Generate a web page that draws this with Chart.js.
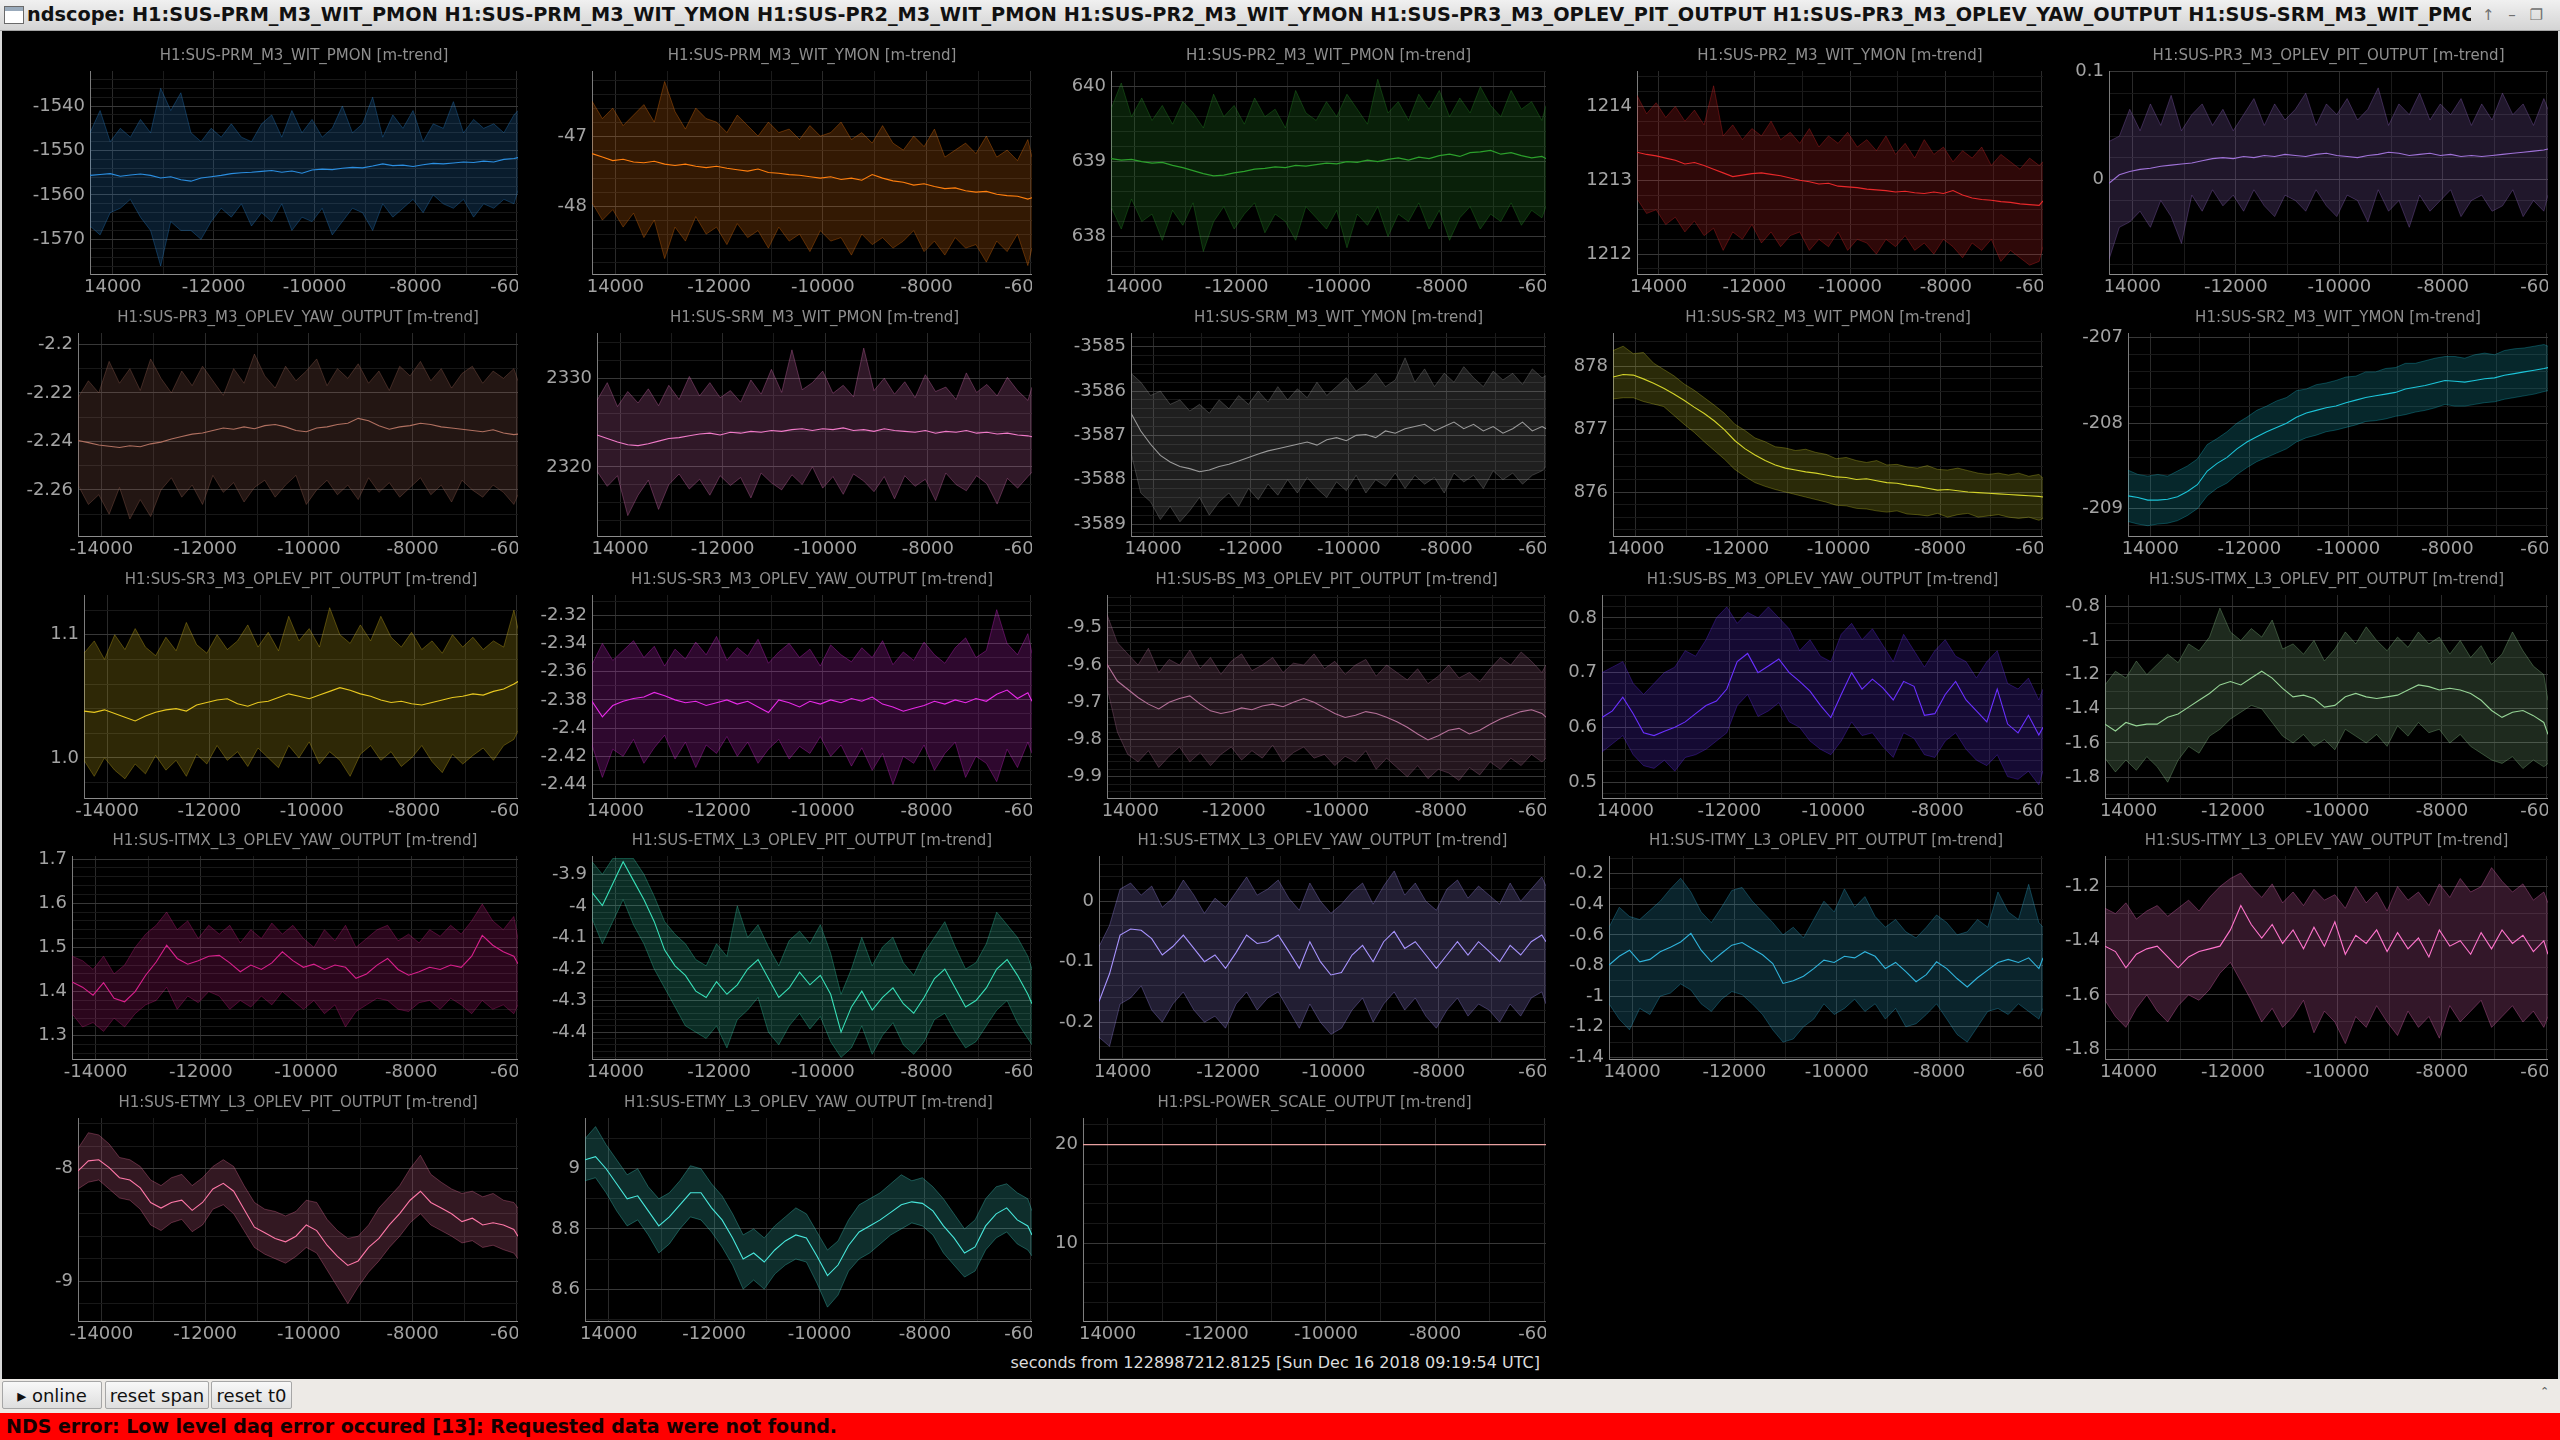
<!DOCTYPE html>
<html lang="en">
<head>
<meta charset="UTF-8">
<title>ndscope</title>
<script src="https://cdn.jsdelivr.net/npm/chart.js"></script>
<style>
    html, body { margin: 0; padding: 0; }
    body { width: 2560px; height: 1440px; position: relative; overflow: hidden; background: #d9d9d9; font-family: "DejaVu Sans", sans-serif; }
    #titlebar { position: absolute; left: 0; top: 0; width: 2560px; height: 30px; background: linear-gradient(#f0f0f0, #d4d4d4); border-bottom: 1px solid #a4a4a4; }
    #winicon { position: absolute; left: 4px; top: 6px; width: 18px; height: 16px; border: 1px solid #6a6a6a; background: linear-gradient(#9ab 0, #9ab 4px, #fff 4px); }
    #titletext { position: absolute; left: 27px; top: 0; width: 2444px; height: 30px; line-height: 30px; overflow: hidden; white-space: nowrap; font-weight: bold; font-size: 19.3px; color: #111; }
    #winbtns { position: absolute; left: 2482px; top: 0; height: 30px; line-height: 30px; font-size: 15px; color: #707070; word-spacing: 9px; }
    #scope { position: absolute; left: 2px; top: 31px; width: 2556px; height: 1348px; background: #000; }
    canvas { position: absolute; }
    #tlabel { position: absolute; left: 900px; width: 640px; top: 1353px; text-align: right; color: #dcdcdc; font-size: 16px; white-space: nowrap; }
    #bar { position: absolute; left: 0; top: 1379px; width: 2560px; height: 34px; background: #edeae6; }
    #bar .up { position: absolute; left: 2540px; top: 6px; font-size: 11px; color: #555; }
    .btn { position: absolute; top: 2px; height: 28px; line-height: 28px; border: 1px solid #a6a6a6; border-radius: 2px; background: linear-gradient(#f8f8f8, #dedede); font-size: 18px; color: #111; text-align: center; box-sizing: border-box; }
    #err { position: absolute; left: 0; top: 1413px; width: 2560px; height: 27px; background: #ff0000; color: #140000; font-weight: bold; font-size: 19px; line-height: 27px; padding-left: 6px; box-sizing: border-box; white-space: nowrap; }
</style>
</head>
<body>

<div id="titlebar">
    <div id="winicon"></div>
    <div id="titletext">ndscope: H1:SUS-PRM_M3_WIT_PMON H1:SUS-PRM_M3_WIT_YMON H1:SUS-PR2_M3_WIT_PMON H1:SUS-PR2_M3_WIT_YMON H1:SUS-PR3_M3_OPLEV_PIT_OUTPUT H1:SUS-PR3_M3_OPLEV_YAW_OUTPUT H1:SUS-SRM_M3_WIT_PMON H1:SUS-SRM_M3_WIT_YMON H1:SUS-SR2_M3_WIT_PMON</div>
    <div id="winbtns">&#8593; &#8211; &#10064; &#10005;</div>
</div>
<div id="scope"></div>
<div id="tlabel">seconds from 1228987212.8125 [Sun Dec 16 2018 09:19:54 UTC]</div>
<div id="bar">
    <div class="btn" style="left:2px;width:100px;">&#9656; online</div>
    <div class="btn" style="left:105px;width:104px;">reset span</div>
    <div class="btn" style="left:211px;width:81px;">reset t0</div>
    <div class="up">&#8963;</div>
</div>
<div id="err">NDS error: Low level daq error occured [13]: Requested data were not found.</div>

<script>
    // ---- data: minute trends (mean / max / min), seconds relative to t0 ----
    const TIMES = [-14450,-14250,-14050,-13850,-13650,-13450,-13250,-13050,-12850,-12650,-12450,-12250,-12050,-11850,-11650,-11450,-11250,-11050,-10850,-10650,-10450,-10250,-10050,-9850,-9650,-9450,-9250,-9050,-8850,-8650,-8450,-8250,-8050,-7850,-7650,-7450,-7250,-7050,-6850,-6650,-6450,-6250,-6050,-5970];
    const PSL_TIMES = [-14450, -5970];

    const PRM_PMON_MEAN = [-1555.6,-1555.4,-1555.2,-1555.8,-1555.5,-1555.3,-1555.6,-1556.2,-1555.9,-1556.6,-1556.9,-1556.2,-1555.9,-1555.6,-1555.2,-1555.0,-1554.9,-1554.7,-1554.5,-1554.9,-1554.6,-1555.1,-1554.4,-1554.2,-1554.3,-1554.0,-1553.8,-1553.9,-1553.5,-1553.0,-1553.4,-1553.3,-1553.6,-1553.2,-1552.9,-1553.0,-1552.8,-1552.6,-1552.7,-1552.4,-1552.6,-1552.0,-1551.8,-1551.6];
    const PRM_PMON_MAX = [-1546,-1541,-1548,-1545,-1547,-1543,-1546,-1536,-1541,-1537,-1546,-1548,-1545,-1547,-1544,-1547,-1548,-1544,-1542,-1547,-1541,-1546,-1543,-1547,-1545,-1540,-1546,-1544,-1538,-1547,-1542,-1545,-1541,-1548,-1544,-1545,-1539,-1546,-1543,-1545,-1544,-1546,-1542,-1541];
    const PRM_PMON_MIN = [-1567,-1569,-1564,-1563,-1561,-1565,-1568,-1576,-1566,-1568,-1568,-1570,-1566,-1563,-1565,-1562,-1567,-1564,-1566,-1562,-1568,-1565,-1566,-1563,-1569,-1566,-1563,-1564,-1568,-1562,-1565,-1563,-1561,-1564,-1560,-1562,-1563,-1561,-1565,-1562,-1563,-1561,-1562,-1559];

    const PRM_YMON_MEAN = [-47.25,-47.3,-47.35,-47.33,-47.37,-47.38,-47.36,-47.4,-47.42,-47.4,-47.43,-47.45,-47.43,-47.46,-47.48,-47.5,-47.47,-47.52,-47.53,-47.55,-47.56,-47.58,-47.6,-47.58,-47.62,-47.6,-47.63,-47.55,-47.6,-47.64,-47.66,-47.7,-47.68,-47.72,-47.75,-47.74,-47.78,-47.8,-47.79,-47.83,-47.85,-47.86,-47.9,-47.88];
    const PRM_YMON_MAX = [-46.5,-46.75,-46.6,-46.85,-46.7,-46.55,-46.8,-46.22,-46.65,-46.9,-46.6,-46.75,-46.8,-46.95,-46.7,-46.85,-47.0,-46.8,-46.95,-46.9,-47.05,-46.85,-47.0,-46.95,-46.8,-47.05,-46.95,-47.1,-46.85,-47.1,-47.2,-47.0,-47.15,-46.9,-47.3,-47.2,-47.1,-47.25,-47.0,-47.3,-47.2,-47.35,-47.05,-47.3];
    const PRM_YMON_MIN = [-47.95,-48.2,-48.05,-48.3,-48.1,-48.45,-48.2,-48.75,-48.3,-48.5,-48.15,-48.4,-48.3,-48.55,-48.25,-48.45,-48.35,-48.6,-48.3,-48.5,-48.4,-48.65,-48.35,-48.5,-48.45,-48.7,-48.4,-48.55,-48.45,-48.6,-48.5,-48.35,-48.65,-48.5,-48.7,-48.45,-48.6,-48.55,-48.8,-48.5,-48.65,-48.4,-48.85,-48.6];

    const PR2_PMON_MEAN = [639.04,639.02,639.03,639.0,638.98,638.99,638.95,638.92,638.88,638.84,638.81,638.82,638.85,638.87,638.9,638.91,638.93,638.92,638.95,638.94,638.96,638.98,638.97,639.0,638.99,639.02,639.0,639.03,639.05,639.02,639.06,639.04,639.08,639.1,639.07,639.12,639.13,639.15,639.1,639.12,639.08,639.05,639.07,639.04];
    const PR2_PMON_MAX = [639.7,640.05,639.6,639.85,639.55,639.75,639.5,639.8,639.65,639.45,639.9,639.6,639.75,639.5,639.85,639.6,639.7,639.45,639.95,639.65,639.55,639.8,639.6,639.9,639.7,639.5,640.1,639.65,639.8,639.55,639.9,639.7,639.95,639.6,639.85,639.65,640.0,639.75,639.6,639.95,639.7,639.8,639.55,639.75];
    const PR2_PMON_MIN = [638.4,638.1,638.5,638.2,638.3,637.95,638.35,638.15,638.45,637.8,638.2,638.4,638.1,638.3,638.45,638.05,638.3,638.2,637.95,638.4,638.25,638.1,638.35,637.85,638.3,638.15,638.4,638.0,638.3,638.2,638.45,638.1,638.35,637.95,638.25,638.4,638.1,638.3,638.2,638.45,638.15,638.35,638.25,638.4];

    const PR2_YMON_MEAN = [1213.38,1213.35,1213.33,1213.3,1213.27,1213.22,1213.24,1213.2,1213.15,1213.1,1213.05,1213.07,1213.09,1213.1,1213.08,1213.06,1213.03,1213.0,1212.98,1212.95,1212.96,1212.92,1212.91,1212.9,1212.88,1212.87,1212.86,1212.84,1212.85,1212.83,1212.82,1212.84,1212.82,1212.86,1212.8,1212.76,1212.74,1212.73,1212.71,1212.7,1212.68,1212.67,1212.66,1212.72];
    const PR2_YMON_MAX = [1214.15,1213.9,1214.05,1213.85,1214.0,1213.8,1213.95,1213.75,1214.28,1213.6,1213.75,1213.55,1213.7,1213.6,1213.8,1213.55,1213.65,1213.5,1213.7,1213.45,1213.6,1213.5,1213.65,1213.45,1213.55,1213.4,1213.6,1213.35,1213.5,1213.3,1213.55,1213.35,1213.45,1213.25,1213.4,1213.3,1213.45,1213.2,1213.35,1213.25,1213.15,1213.3,1213.2,1213.25];
    const PR2_YMON_MIN = [1212.75,1212.55,1212.6,1212.4,1212.5,1212.3,1212.45,1212.25,1212.35,1212.05,1212.3,1212.2,1212.4,1212.15,1212.3,1212.1,1212.25,1212.3,1212.05,1212.2,1212.1,1212.3,1212.05,1212.2,1212.15,1212.0,1212.2,1212.1,1212.25,1212.05,1212.15,1212.0,1212.2,1212.1,1211.95,1212.15,1212.05,1212.2,1211.9,1212.05,1211.95,1211.85,1211.9,1212.1];

    const PR3_PIT_MEAN = [-0.004,0.004,0.007,0.009,0.01,0.012,0.013,0.014,0.015,0.017,0.019,0.02,0.019,0.021,0.02,0.022,0.021,0.023,0.022,0.021,0.023,0.024,0.022,0.021,0.02,0.022,0.023,0.025,0.024,0.022,0.023,0.024,0.022,0.023,0.021,0.022,0.021,0.022,0.023,0.024,0.025,0.026,0.027,0.028];
    const PR3_PIT_MAX = [0.035,0.04,0.065,0.045,0.07,0.05,0.078,0.045,0.06,0.07,0.05,0.065,0.045,0.06,0.075,0.05,0.07,0.055,0.065,0.08,0.05,0.07,0.06,0.075,0.055,0.065,0.085,0.05,0.07,0.06,0.08,0.055,0.07,0.06,0.075,0.05,0.07,0.055,0.08,0.06,0.07,0.05,0.075,0.065];
    const PR3_PIT_MIN = [-0.075,-0.045,-0.04,-0.03,-0.045,-0.02,-0.035,-0.06,-0.015,-0.03,-0.01,-0.025,-0.015,-0.03,-0.01,-0.025,-0.035,-0.015,-0.02,-0.03,-0.01,-0.025,-0.035,-0.015,-0.02,-0.04,-0.01,-0.03,-0.02,-0.045,-0.015,-0.03,-0.02,-0.01,-0.035,-0.02,-0.015,-0.03,-0.025,-0.01,-0.035,-0.02,-0.03,-0.015];

    const PR3_YAW_MEAN = [-2.2396,-2.2405,-2.2415,-2.242,-2.2425,-2.2418,-2.2422,-2.241,-2.2403,-2.239,-2.238,-2.237,-2.2365,-2.2355,-2.2345,-2.235,-2.234,-2.2348,-2.2335,-2.233,-2.234,-2.2355,-2.236,-2.2345,-2.234,-2.233,-2.2325,-2.2305,-2.2315,-2.2335,-2.235,-2.234,-2.2335,-2.2325,-2.233,-2.234,-2.2345,-2.235,-2.2355,-2.236,-2.2352,-2.2365,-2.2372,-2.237];
    const PR3_YAW_MAX = [-2.222,-2.215,-2.22,-2.207,-2.216,-2.21,-2.219,-2.206,-2.214,-2.22,-2.211,-2.217,-2.209,-2.215,-2.221,-2.21,-2.216,-2.204,-2.213,-2.218,-2.209,-2.215,-2.211,-2.206,-2.217,-2.21,-2.214,-2.208,-2.216,-2.211,-2.219,-2.209,-2.213,-2.207,-2.215,-2.21,-2.218,-2.212,-2.209,-2.216,-2.211,-2.214,-2.21,-2.215];
    const PR3_YAW_MIN = [-2.258,-2.266,-2.262,-2.27,-2.259,-2.272,-2.264,-2.271,-2.26,-2.255,-2.263,-2.258,-2.266,-2.254,-2.261,-2.257,-2.265,-2.259,-2.256,-2.263,-2.258,-2.254,-2.266,-2.26,-2.256,-2.262,-2.258,-2.264,-2.255,-2.261,-2.257,-2.263,-2.259,-2.255,-2.262,-2.258,-2.265,-2.256,-2.26,-2.263,-2.258,-2.261,-2.266,-2.262];

    const SRM_PMON_MEAN = [2323.6,2323.2,2322.8,2322.5,2322.4,2322.6,2322.9,2323.2,2323.3,2323.5,2323.7,2323.8,2323.6,2323.9,2323.8,2324.0,2323.9,2324.1,2324.0,2324.2,2324.3,2324.1,2324.3,2324.2,2324.4,2324.1,2324.2,2324.0,2324.3,2324.1,2324.0,2323.9,2324.1,2323.8,2324.0,2323.9,2324.1,2323.8,2323.9,2323.7,2323.8,2323.6,2323.5,2323.4];
    const SRM_PMON_MAX = [2327.5,2329.5,2326.8,2328.5,2327.2,2328.8,2326.9,2329.2,2327.6,2330.2,2328.0,2329.5,2327.8,2328.6,2327.3,2329.8,2328.2,2331.0,2328.4,2333.2,2328.7,2329.5,2330.8,2328.3,2329.2,2327.9,2333.4,2328.6,2330.0,2328.2,2329.6,2327.8,2330.4,2328.5,2329.0,2327.6,2330.6,2328.4,2329.3,2328.0,2330.1,2328.6,2327.5,2329.0];
    const SRM_PMON_MIN = [2319.5,2317.8,2319.0,2314.5,2316.8,2318.5,2315.2,2318.0,2319.2,2317.5,2318.6,2316.8,2319.0,2317.9,2318.8,2316.5,2319.3,2318.2,2317.4,2319.1,2318.0,2320.0,2317.6,2318.9,2316.9,2319.2,2318.4,2317.2,2318.9,2316.4,2319.0,2317.8,2318.6,2316.2,2319.3,2318.0,2317.3,2319.0,2318.1,2315.8,2318.7,2317.6,2318.9,2319.4];

    const SRM_YMON_MEAN = [-3586.5,-3586.9,-3587.2,-3587.45,-3587.6,-3587.7,-3587.75,-3587.82,-3587.78,-3587.7,-3587.65,-3587.58,-3587.5,-3587.42,-3587.35,-3587.3,-3587.25,-3587.2,-3587.15,-3587.22,-3587.1,-3587.05,-3587.12,-3587.0,-3586.98,-3587.05,-3586.9,-3586.95,-3586.85,-3586.8,-3586.75,-3586.9,-3586.8,-3586.7,-3586.85,-3586.75,-3586.9,-3586.8,-3586.95,-3586.85,-3586.7,-3586.9,-3586.8,-3586.85];
    const SRM_YMON_MAX = [-3585.6,-3585.8,-3586.1,-3586.0,-3586.3,-3586.2,-3586.45,-3586.3,-3586.5,-3586.2,-3586.4,-3586.1,-3586.3,-3586.0,-3586.25,-3585.9,-3586.2,-3585.95,-3586.15,-3585.8,-3586.1,-3585.9,-3585.7,-3586.0,-3585.85,-3585.6,-3585.9,-3585.75,-3585.25,-3585.8,-3585.5,-3585.9,-3585.6,-3585.8,-3585.45,-3585.7,-3585.9,-3585.55,-3585.75,-3585.6,-3585.85,-3585.5,-3585.7,-3585.65];
    const SRM_YMON_MIN = [-3587.4,-3588.3,-3588.5,-3588.9,-3588.6,-3588.95,-3588.7,-3588.4,-3588.8,-3588.5,-3588.3,-3588.6,-3588.2,-3588.45,-3588.1,-3588.35,-3588.0,-3588.3,-3587.95,-3588.2,-3588.4,-3588.05,-3588.25,-3587.9,-3588.3,-3588.0,-3588.15,-3587.85,-3588.2,-3587.9,-3588.1,-3587.95,-3588.3,-3587.85,-3588.05,-3587.9,-3588.2,-3587.8,-3588.0,-3587.85,-3588.1,-3587.9,-3587.8,-3587.7];

    const SR2_PMON_MEAN = [877.83,877.87,877.86,877.8,877.73,877.65,877.56,877.46,877.35,877.25,877.13,876.99,876.82,876.69,876.59,876.5,876.43,876.38,876.35,876.32,876.3,876.27,876.24,876.23,876.2,876.21,876.18,876.15,876.14,876.11,876.09,876.06,876.03,876.04,876.02,876.0,875.99,875.98,875.97,875.96,875.95,875.94,875.93,875.92];
    const SR2_PMON_MAX = [878.25,878.32,878.2,878.22,878.05,877.95,877.85,877.72,877.62,877.5,877.38,877.25,877.08,876.98,876.86,876.8,876.72,876.7,876.66,876.68,876.63,876.6,876.53,876.55,876.5,876.47,876.5,876.43,876.44,876.4,876.38,876.42,876.36,876.35,876.38,876.34,876.3,876.28,876.3,876.27,876.3,876.25,876.28,876.22];
    const SR2_PMON_MIN = [877.48,877.5,877.5,877.44,877.4,877.36,877.22,877.08,876.95,876.8,876.66,876.52,876.36,876.25,876.15,876.09,876.04,876.0,875.96,875.92,875.88,875.84,875.79,875.78,875.74,875.73,875.7,875.68,875.7,875.65,875.64,875.62,875.66,875.6,875.64,875.66,875.6,875.62,875.64,875.6,875.58,875.6,875.55,875.58];

    const SR2_YMON_MEAN = [-208.85,-208.87,-208.9,-208.9,-208.89,-208.86,-208.8,-208.72,-208.56,-208.47,-208.4,-208.3,-208.22,-208.16,-208.1,-208.05,-208.0,-207.93,-207.88,-207.85,-207.82,-207.8,-207.76,-207.73,-207.7,-207.68,-207.66,-207.64,-207.6,-207.58,-207.56,-207.53,-207.5,-207.51,-207.52,-207.5,-207.48,-207.47,-207.44,-207.42,-207.4,-207.38,-207.36,-207.35];
    const SR2_YMON_MAX = [-208.55,-208.6,-208.62,-208.6,-208.62,-208.56,-208.5,-208.42,-208.25,-208.18,-208.1,-208.0,-207.93,-207.85,-207.8,-207.74,-207.7,-207.62,-207.6,-207.55,-207.53,-207.5,-207.46,-207.45,-207.4,-207.4,-207.36,-207.35,-207.3,-207.3,-207.27,-207.24,-207.22,-207.22,-207.24,-207.2,-207.18,-207.2,-207.15,-207.13,-207.12,-207.1,-207.08,-207.1];
    const SR2_YMON_MIN = [-209.15,-209.18,-209.2,-209.18,-209.17,-209.14,-209.08,-209.0,-208.85,-208.76,-208.7,-208.6,-208.52,-208.45,-208.4,-208.35,-208.3,-208.22,-208.17,-208.14,-208.1,-208.08,-208.05,-208.02,-207.98,-207.97,-207.95,-207.92,-207.9,-207.87,-207.85,-207.82,-207.78,-207.8,-207.8,-207.78,-207.76,-207.75,-207.72,-207.7,-207.68,-207.66,-207.63,-207.62];

    const SR3_PIT_MEAN = [1.038,1.037,1.039,1.036,1.033,1.030,1.034,1.037,1.039,1.04,1.038,1.043,1.045,1.047,1.048,1.044,1.042,1.045,1.046,1.049,1.052,1.05,1.048,1.051,1.054,1.057,1.055,1.052,1.05,1.047,1.045,1.046,1.044,1.043,1.045,1.047,1.049,1.05,1.052,1.051,1.054,1.056,1.06,1.062];
    const SR3_PIT_MAX = [1.085,1.095,1.08,1.1,1.088,1.105,1.09,1.083,1.098,1.087,1.11,1.092,1.085,1.1,1.088,1.095,1.108,1.09,1.102,1.087,1.115,1.095,1.105,1.09,1.122,1.1,1.093,1.108,1.095,1.115,1.098,1.09,1.102,1.088,1.095,1.085,1.1,1.09,1.098,1.088,1.095,1.09,1.12,1.105];
    const SR3_PIT_MIN = [0.998,0.985,1.0,0.99,0.983,0.995,0.987,1.002,0.99,0.998,0.985,1.003,0.995,1.01,0.998,1.005,0.993,1.008,1.0,0.992,1.01,1.0,1.013,0.995,1.005,0.998,0.985,1.003,1.01,0.998,1.005,0.993,1.0,1.01,0.997,0.988,1.003,0.995,1.002,1.008,0.998,1.01,1.015,1.022];

    const SR3_YAW_MEAN = [-2.381,-2.392,-2.384,-2.381,-2.379,-2.378,-2.3747,-2.377,-2.38,-2.382,-2.381,-2.384,-2.382,-2.38,-2.383,-2.381,-2.385,-2.389,-2.38,-2.382,-2.385,-2.381,-2.383,-2.38,-2.382,-2.379,-2.381,-2.378,-2.383,-2.385,-2.388,-2.386,-2.384,-2.381,-2.383,-2.38,-2.382,-2.379,-2.381,-2.376,-2.373,-2.379,-2.375,-2.381];
    const SR3_YAW_MAX = [-2.355,-2.34,-2.352,-2.345,-2.338,-2.35,-2.342,-2.356,-2.344,-2.351,-2.339,-2.348,-2.335,-2.352,-2.343,-2.349,-2.337,-2.354,-2.346,-2.34,-2.35,-2.344,-2.356,-2.341,-2.348,-2.353,-2.343,-2.35,-2.338,-2.355,-2.346,-2.352,-2.339,-2.348,-2.354,-2.343,-2.336,-2.35,-2.345,-2.316,-2.34,-2.348,-2.333,-2.347];
    const SR3_YAW_MIN = [-2.412,-2.435,-2.415,-2.42,-2.408,-2.425,-2.414,-2.405,-2.422,-2.41,-2.428,-2.412,-2.418,-2.406,-2.42,-2.41,-2.425,-2.415,-2.408,-2.422,-2.413,-2.418,-2.406,-2.42,-2.412,-2.427,-2.414,-2.43,-2.418,-2.44,-2.42,-2.425,-2.412,-2.43,-2.418,-2.41,-2.435,-2.42,-2.425,-2.438,-2.415,-2.428,-2.41,-2.418];

    const BS_PIT_MEAN = [-9.598,-9.643,-9.665,-9.687,-9.705,-9.718,-9.7,-9.69,-9.683,-9.705,-9.723,-9.73,-9.725,-9.715,-9.72,-9.71,-9.705,-9.712,-9.7,-9.69,-9.7,-9.715,-9.73,-9.741,-9.735,-9.725,-9.73,-9.74,-9.752,-9.767,-9.785,-9.801,-9.79,-9.775,-9.77,-9.785,-9.775,-9.759,-9.745,-9.735,-9.725,-9.72,-9.73,-9.74];
    const BS_PIT_MAX = [-9.464,-9.54,-9.57,-9.6,-9.555,-9.62,-9.585,-9.6,-9.56,-9.61,-9.58,-9.625,-9.59,-9.57,-9.615,-9.6,-9.58,-9.62,-9.595,-9.6,-9.57,-9.61,-9.59,-9.625,-9.6,-9.585,-9.63,-9.6,-9.62,-9.64,-9.61,-9.65,-9.63,-9.6,-9.635,-9.62,-9.645,-9.61,-9.58,-9.6,-9.565,-9.59,-9.62,-9.6];
    const BS_PIT_MIN = [-9.66,-9.78,-9.84,-9.86,-9.83,-9.875,-9.845,-9.82,-9.86,-9.835,-9.87,-9.84,-9.82,-9.855,-9.83,-9.85,-9.815,-9.86,-9.835,-9.82,-9.85,-9.84,-9.87,-9.845,-9.86,-9.83,-9.88,-9.85,-9.875,-9.9,-9.87,-9.905,-9.88,-9.89,-9.91,-9.875,-9.895,-9.86,-9.88,-9.85,-9.87,-9.84,-9.86,-9.85];

    const BS_YAW_MEAN = [0.618,0.63,0.655,0.625,0.59,0.585,0.593,0.60,0.61,0.625,0.64,0.648,0.67,0.72,0.735,0.70,0.712,0.725,0.70,0.684,0.666,0.64,0.618,0.66,0.70,0.67,0.688,0.672,0.65,0.684,0.675,0.622,0.625,0.66,0.684,0.65,0.63,0.61,0.67,0.606,0.59,0.622,0.586,0.6];
    const BS_YAW_MAX = [0.70,0.71,0.72,0.68,0.66,0.68,0.70,0.71,0.74,0.73,0.76,0.80,0.82,0.79,0.81,0.80,0.82,0.80,0.78,0.74,0.76,0.73,0.72,0.77,0.79,0.76,0.78,0.75,0.72,0.77,0.74,0.71,0.74,0.76,0.73,0.72,0.69,0.72,0.74,0.68,0.67,0.69,0.65,0.67];
    const BS_YAW_MIN = [0.555,0.57,0.585,0.55,0.53,0.525,0.54,0.52,0.545,0.55,0.56,0.575,0.59,0.64,0.66,0.62,0.63,0.645,0.61,0.60,0.575,0.56,0.55,0.575,0.61,0.585,0.59,0.565,0.545,0.59,0.58,0.55,0.545,0.575,0.59,0.56,0.54,0.53,0.55,0.51,0.505,0.52,0.495,0.52];

    const ITMX_PIT_MEAN = [-1.49,-1.53,-1.48,-1.5,-1.49,-1.49,-1.45,-1.43,-1.39,-1.35,-1.31,-1.26,-1.24,-1.26,-1.22,-1.18,-1.22,-1.28,-1.33,-1.32,-1.34,-1.39,-1.38,-1.33,-1.31,-1.33,-1.34,-1.33,-1.32,-1.29,-1.26,-1.27,-1.29,-1.28,-1.29,-1.31,-1.35,-1.41,-1.45,-1.42,-1.41,-1.44,-1.48,-1.55];
    const ITMX_PIT_MAX = [-1.26,-1.18,-1.22,-1.12,-1.2,-1.14,-1.08,-1.13,-1.02,-1.06,-0.98,-0.81,-0.95,-1.0,-0.93,-0.98,-0.88,-1.05,-1.02,-1.08,-1.0,-1.12,-1.05,-0.95,-1.02,-0.92,-1.0,-1.06,-0.98,-1.04,-0.95,-1.02,-0.98,-1.08,-1.0,-1.1,-1.03,-1.14,-1.08,-0.95,-1.06,-1.15,-1.2,-1.35];
    const ITMX_PIT_MIN = [-1.69,-1.77,-1.7,-1.76,-1.68,-1.74,-1.83,-1.7,-1.62,-1.66,-1.56,-1.52,-1.46,-1.42,-1.38,-1.4,-1.48,-1.56,-1.6,-1.55,-1.62,-1.58,-1.64,-1.52,-1.56,-1.6,-1.55,-1.62,-1.5,-1.56,-1.48,-1.54,-1.52,-1.6,-1.55,-1.62,-1.66,-1.7,-1.72,-1.68,-1.75,-1.7,-1.74,-1.72];

    const ITMX_YAW_MEAN = [1.422,1.41,1.392,1.42,1.385,1.377,1.40,1.437,1.467,1.505,1.475,1.462,1.47,1.48,1.482,1.465,1.445,1.46,1.45,1.465,1.49,1.47,1.455,1.462,1.45,1.46,1.455,1.43,1.44,1.46,1.475,1.45,1.437,1.445,1.455,1.45,1.46,1.455,1.48,1.527,1.505,1.49,1.48,1.463];
    const ITMX_YAW_MAX = [1.48,1.47,1.45,1.48,1.44,1.46,1.50,1.53,1.55,1.58,1.54,1.56,1.52,1.55,1.53,1.55,1.51,1.54,1.52,1.555,1.53,1.55,1.52,1.5,1.54,1.515,1.55,1.5,1.52,1.54,1.55,1.515,1.53,1.51,1.54,1.525,1.55,1.53,1.56,1.598,1.56,1.54,1.57,1.52];
    const ITMX_YAW_MIN = [1.35,1.32,1.33,1.31,1.34,1.32,1.35,1.37,1.38,1.41,1.36,1.39,1.375,1.4,1.39,1.36,1.38,1.365,1.39,1.37,1.4,1.38,1.36,1.38,1.35,1.37,1.32,1.355,1.37,1.385,1.38,1.36,1.355,1.375,1.38,1.36,1.385,1.37,1.35,1.38,1.36,1.37,1.35,1.37];

    const ETMX_PIT_MEAN = [-3.957,-3.999,-3.93,-3.86,-3.92,-3.98,-4.05,-4.14,-4.19,-4.22,-4.27,-4.29,-4.24,-4.28,-4.25,-4.2,-4.17,-4.23,-4.29,-4.26,-4.21,-4.25,-4.22,-4.28,-4.4,-4.32,-4.27,-4.33,-4.29,-4.26,-4.31,-4.34,-4.29,-4.23,-4.2,-4.26,-4.32,-4.3,-4.26,-4.2,-4.17,-4.22,-4.28,-4.31];
    const ETMX_PIT_MAX = [-3.86,-3.9,-3.85,-3.85,-3.85,-3.9,-3.97,-4.05,-4.09,-4.12,-4.17,-4.19,-4.12,-4.16,-4.0,-4.1,-4.06,-4.13,-4.19,-4.11,-4.08,-4.12,-4.06,-4.15,-4.28,-4.2,-4.1,-4.19,-4.13,-4.1,-4.18,-4.22,-4.15,-4.1,-4.05,-4.13,-4.2,-4.18,-4.12,-4.02,-4.06,-4.1,-4.16,-4.2];
    const ETMX_PIT_MIN = [-4.04,-4.12,-4.05,-3.98,-4.06,-4.12,-4.2,-4.26,-4.32,-4.38,-4.4,-4.42,-4.38,-4.45,-4.36,-4.33,-4.29,-4.4,-4.44,-4.38,-4.34,-4.39,-4.35,-4.43,-4.48,-4.45,-4.38,-4.47,-4.41,-4.37,-4.44,-4.47,-4.43,-4.36,-4.34,-4.4,-4.45,-4.43,-4.38,-4.33,-4.3,-4.37,-4.42,-4.44];

    const ETMX_YAW_MEAN = [-0.166,-0.12,-0.056,-0.046,-0.048,-0.062,-0.089,-0.075,-0.056,-0.078,-0.1,-0.089,-0.111,-0.085,-0.056,-0.07,-0.067,-0.056,-0.083,-0.111,-0.067,-0.1,-0.122,-0.118,-0.089,-0.073,-0.1,-0.067,-0.05,-0.078,-0.067,-0.089,-0.111,-0.089,-0.067,-0.089,-0.067,-0.083,-0.1,-0.073,-0.089,-0.067,-0.056,-0.067];
    const ETMX_YAW_MAX = [-0.075,-0.04,0.02,0.03,0.01,0.025,-0.01,0.005,0.035,0.01,-0.02,0.005,-0.01,0.015,0.04,0.01,0.02,0.035,0.005,-0.015,0.03,0.0,-0.02,-0.005,0.015,0.03,-0.005,0.025,0.05,0.01,0.03,0.0,-0.015,0.02,0.035,0.005,0.025,0.01,-0.005,0.03,0.0,0.02,0.04,0.025];
    const ETMX_YAW_MIN = [-0.225,-0.24,-0.17,-0.16,-0.14,-0.18,-0.2,-0.17,-0.15,-0.18,-0.2,-0.19,-0.21,-0.17,-0.15,-0.18,-0.16,-0.15,-0.18,-0.21,-0.17,-0.2,-0.22,-0.21,-0.18,-0.16,-0.2,-0.17,-0.15,-0.18,-0.16,-0.19,-0.21,-0.18,-0.16,-0.19,-0.17,-0.18,-0.2,-0.17,-0.19,-0.16,-0.15,-0.17];

    const ITMY_PIT_MEAN = [-0.797,-0.74,-0.7,-0.776,-0.76,-0.71,-0.68,-0.646,-0.59,-0.7,-0.776,-0.72,-0.667,-0.65,-0.69,-0.73,-0.787,-0.917,-0.9,-0.87,-0.82,-0.765,-0.78,-0.74,-0.75,-0.71,-0.74,-0.82,-0.78,-0.84,-0.906,-0.86,-0.776,-0.82,-0.885,-0.94,-0.88,-0.83,-0.78,-0.76,-0.78,-0.75,-0.82,-0.75];
    const ITMY_PIT_MAX = [-0.55,-0.42,-0.48,-0.5,-0.44,-0.38,-0.3,-0.23,-0.32,-0.45,-0.52,-0.42,-0.31,-0.29,-0.38,-0.45,-0.52,-0.6,-0.55,-0.62,-0.5,-0.38,-0.45,-0.3,-0.42,-0.35,-0.48,-0.55,-0.5,-0.58,-0.62,-0.55,-0.47,-0.52,-0.6,-0.58,-0.5,-0.55,-0.32,-0.45,-0.5,-0.27,-0.52,-0.55];
    const ITMY_PIT_MIN = [-1.05,-1.15,-1.22,-1.08,-1.12,-1.0,-0.98,-0.92,-0.96,-1.05,-1.1,-1.02,-0.97,-0.99,-1.05,-1.12,-1.22,-1.3,-1.28,-1.2,-1.15,-1.05,-1.12,-1.08,-1.02,-1.1,-1.05,-1.15,-1.08,-1.2,-1.18,-1.12,-1.05,-1.15,-1.25,-1.3,-1.2,-1.1,-1.08,-1.12,-1.05,-1.1,-1.15,-1.08];

    const ITMY_YAW_MEAN = [-1.42,-1.44,-1.5,-1.45,-1.43,-1.42,-1.46,-1.5,-1.46,-1.44,-1.43,-1.42,-1.36,-1.27,-1.34,-1.39,-1.34,-1.41,-1.36,-1.43,-1.35,-1.42,-1.33,-1.45,-1.38,-1.41,-1.36,-1.44,-1.37,-1.43,-1.39,-1.46,-1.36,-1.42,-1.4,-1.45,-1.37,-1.43,-1.36,-1.41,-1.38,-1.44,-1.4,-1.45];
    const ITMY_YAW_MAX = [-1.28,-1.3,-1.26,-1.32,-1.29,-1.27,-1.31,-1.28,-1.25,-1.29,-1.24,-1.2,-1.17,-1.15,-1.2,-1.24,-1.19,-1.26,-1.22,-1.27,-1.21,-1.25,-1.23,-1.28,-1.2,-1.26,-1.22,-1.29,-1.2,-1.25,-1.22,-1.27,-1.19,-1.24,-1.17,-1.22,-1.2,-1.13,-1.18,-1.22,-1.19,-1.25,-1.22,-1.26];
    const ITMY_YAW_MIN = [-1.62,-1.68,-1.72,-1.65,-1.6,-1.66,-1.7,-1.64,-1.6,-1.62,-1.58,-1.52,-1.48,-1.55,-1.62,-1.7,-1.65,-1.72,-1.68,-1.62,-1.74,-1.66,-1.7,-1.78,-1.68,-1.72,-1.64,-1.7,-1.75,-1.66,-1.72,-1.68,-1.76,-1.64,-1.7,-1.66,-1.62,-1.72,-1.68,-1.64,-1.7,-1.66,-1.72,-1.68];

    const ETMY_PIT_MEAN = [-8.02,-7.93,-7.92,-7.99,-8.08,-8.1,-8.17,-8.3,-8.35,-8.3,-8.28,-8.37,-8.3,-8.18,-8.13,-8.2,-8.36,-8.52,-8.57,-8.62,-8.65,-8.6,-8.5,-8.55,-8.68,-8.78,-8.86,-8.82,-8.7,-8.62,-8.5,-8.4,-8.28,-8.2,-8.3,-8.35,-8.4,-8.47,-8.44,-8.5,-8.48,-8.5,-8.54,-8.6];
    const ETMY_PIT_MAX = [-7.82,-7.68,-7.7,-7.78,-7.9,-7.92,-7.98,-8.1,-8.15,-8.08,-8.05,-8.15,-8.08,-7.98,-7.92,-7.98,-8.15,-8.3,-8.36,-8.38,-8.42,-8.38,-8.28,-8.3,-8.45,-8.55,-8.62,-8.6,-8.5,-8.35,-8.25,-8.15,-8.0,-7.88,-8.05,-8.12,-8.18,-8.22,-8.2,-8.25,-8.22,-8.28,-8.3,-8.35];
    const ETMY_PIT_MIN = [-8.18,-8.12,-8.1,-8.18,-8.26,-8.28,-8.36,-8.5,-8.55,-8.48,-8.45,-8.56,-8.5,-8.36,-8.32,-8.4,-8.55,-8.7,-8.76,-8.8,-8.84,-8.78,-8.7,-8.75,-8.9,-9.05,-9.2,-9.05,-8.92,-8.82,-8.7,-8.6,-8.48,-8.4,-8.5,-8.55,-8.6,-8.66,-8.64,-8.7,-8.68,-8.72,-8.75,-8.8];

    const ETMY_YAW_MEAN = [9.03,9.04,9.0,8.95,8.9,8.91,8.86,8.81,8.84,8.88,8.92,8.92,8.87,8.83,8.77,8.7,8.72,8.69,8.73,8.76,8.78,8.77,8.71,8.645,8.68,8.745,8.79,8.81,8.83,8.855,8.88,8.89,8.885,8.86,8.81,8.77,8.72,8.74,8.81,8.85,8.87,8.83,8.81,8.78];
    const ETMY_YAW_MAX = [9.1,9.14,9.08,9.03,8.98,9.0,8.94,8.9,8.92,8.96,9.01,9.0,8.95,8.91,8.85,8.78,8.8,8.77,8.81,8.84,8.87,8.85,8.79,8.73,8.76,8.83,8.88,8.9,8.92,8.95,8.98,8.96,8.97,8.94,8.9,8.85,8.8,8.83,8.9,8.94,8.95,8.92,8.9,8.86];
    const ETMY_YAW_MIN = [8.96,8.97,8.92,8.86,8.81,8.83,8.78,8.72,8.75,8.8,8.84,8.83,8.79,8.74,8.68,8.6,8.63,8.6,8.65,8.68,8.7,8.69,8.62,8.54,8.58,8.66,8.7,8.72,8.75,8.78,8.8,8.82,8.81,8.78,8.72,8.68,8.64,8.66,8.73,8.77,8.79,8.75,8.73,8.71];

    const PSL_POWER_MEAN = [20, 20];

    // x axis: seconds from t0
    const X_RANGE = [-14450, -5970];
    const X_MAJOR = 2000, X_MINOR = 1000;

    // one entry per plot: channel, series, y-axis range and tick spacing
    const PANELS = [
        {name: 'H1:SUS-PRM_M3_WIT_PMON', t: TIMES, mean: PRM_PMON_MEAN, max: PRM_PMON_MAX, min: PRM_PMON_MIN, y: [-1577.8, -1532.1], major: 10, minor: 2},
        {name: 'H1:SUS-PRM_M3_WIT_YMON', t: TIMES, mean: PRM_YMON_MEAN, max: PRM_YMON_MAX, min: PRM_YMON_MIN, y: [-48.97, -46.07], major: 1, minor: 0.2},
        {name: 'H1:SUS-PR2_M3_WIT_PMON', t: TIMES, mean: PR2_PMON_MEAN, max: PR2_PMON_MAX, min: PR2_PMON_MIN, y: [637.5, 640.21], major: 1, minor: 0.2},
        {name: 'H1:SUS-PR2_M3_WIT_YMON', t: TIMES, mean: PR2_YMON_MEAN, max: PR2_YMON_MAX, min: PR2_YMON_MIN, y: [1211.73, 1214.48], major: 1, minor: 0.2},
        {name: 'H1:SUS-PR3_M3_OPLEV_PIT_OUTPUT', t: TIMES, mean: PR3_PIT_MEAN, max: PR3_PIT_MAX, min: PR3_PIT_MIN, y: [-0.0885, 0.1007], major: 0.1, minor: 0.02},
        {name: 'H1:SUS-PR3_M3_OPLEV_YAW_OUTPUT', t: TIMES, mean: PR3_YAW_MEAN, max: PR3_YAW_MAX, min: PR3_YAW_MIN, y: [-2.279, -2.1953], major: 0.02, minor: 0.01},
        {name: 'H1:SUS-SRM_M3_WIT_PMON', t: TIMES, mean: SRM_PMON_MEAN, max: SRM_PMON_MAX, min: SRM_PMON_MIN, y: [2312.2, 2335.1], major: 10, minor: 2},
        {name: 'H1:SUS-SRM_M3_WIT_YMON', t: TIMES, mean: SRM_YMON_MEAN, max: SRM_YMON_MAX, min: SRM_YMON_MIN, y: [-3589.27, -3584.69], major: 1, minor: 0.2},
        {name: 'H1:SUS-SR2_M3_WIT_PMON', t: TIMES, mean: SR2_PMON_MEAN, max: SR2_PMON_MAX, min: SR2_PMON_MIN, y: [875.3, 878.53], major: 1, minor: 0.2},
        {name: 'H1:SUS-SR2_M3_WIT_YMON', t: TIMES, mean: SR2_YMON_MEAN, max: SR2_YMON_MAX, min: SR2_YMON_MIN, y: [-209.32, -206.945], major: 1, minor: 0.2},
        {name: 'H1:SUS-SR3_M3_OPLEV_PIT_OUTPUT', t: TIMES, mean: SR3_PIT_MEAN, max: SR3_PIT_MAX, min: SR3_PIT_MIN, y: [0.9674, 1.1323], major: 0.1, minor: 0.02, fixed: 1},
        {name: 'H1:SUS-SR3_M3_OPLEV_YAW_OUTPUT', t: TIMES, mean: SR3_YAW_MEAN, max: SR3_YAW_MAX, min: SR3_YAW_MIN, y: [-2.4496, -2.3056], major: 0.02, minor: 0.01},
        {name: 'H1:SUS-BS_M3_OPLEV_PIT_OUTPUT', t: TIMES, mean: BS_PIT_MEAN, max: BS_PIT_MAX, min: BS_PIT_MIN, y: [-9.957, -9.412], major: 0.1, minor: 0.02},
        {name: 'H1:SUS-BS_M3_OPLEV_YAW_OUTPUT', t: TIMES, mean: BS_YAW_MEAN, max: BS_YAW_MAX, min: BS_YAW_MIN, y: [0.4709, 0.8418], major: 0.1, minor: 0.02},
        {name: 'H1:SUS-ITMX_L3_OPLEV_PIT_OUTPUT', t: TIMES, mean: ITMX_PIT_MEAN, max: ITMX_PIT_MAX, min: ITMX_PIT_MIN, y: [-1.9224, -0.7335], major: 0.2, minor: 0.1},
        {name: 'H1:SUS-ITMX_L3_OPLEV_YAW_OUTPUT', t: TIMES, mean: ITMX_YAW_MEAN, max: ITMX_YAW_MAX, min: ITMX_YAW_MIN, y: [1.2475, 1.7068], major: 0.1, minor: 0.02},
        {name: 'H1:SUS-ETMX_L3_OPLEV_PIT_OUTPUT', t: TIMES, mean: ETMX_PIT_MEAN, max: ETMX_PIT_MAX, min: ETMX_PIT_MIN, y: [-4.485, -3.842], major: 0.1, minor: 0.02},
        {name: 'H1:SUS-ETMX_L3_OPLEV_YAW_OUTPUT', t: TIMES, mean: ETMX_YAW_MEAN, max: ETMX_YAW_MAX, min: ETMX_YAW_MIN, y: [-0.2609, 0.0747], major: 0.1, minor: 0.02},
        {name: 'H1:SUS-ITMY_L3_OPLEV_PIT_OUTPUT', t: TIMES, mean: ITMY_PIT_MEAN, max: ITMY_PIT_MAX, min: ITMY_PIT_MIN, y: [-1.4104, -0.085], major: 0.2, minor: 0.1},
        {name: 'H1:SUS-ITMY_L3_OPLEV_YAW_OUTPUT', t: TIMES, mean: ITMY_YAW_MEAN, max: ITMY_YAW_MAX, min: ITMY_YAW_MIN, y: [-1.8368, -1.087], major: 0.2, minor: 0.1},
        {name: 'H1:SUS-ETMY_L3_OPLEV_PIT_OUTPUT', t: TIMES, mean: ETMY_PIT_MEAN, max: ETMY_PIT_MAX, min: ETMY_PIT_MIN, y: [-9.354, -7.549], major: 1, minor: 0.2},
        {name: 'H1:SUS-ETMY_L3_OPLEV_YAW_OUTPUT', t: TIMES, mean: ETMY_YAW_MEAN, max: ETMY_YAW_MAX, min: ETMY_YAW_MIN, y: [8.494, 9.1686], major: 0.2, minor: 0.1},
        {name: 'H1:PSL-POWER_SCALE_OUTPUT', t: PSL_TIMES, mean: PSL_POWER_MEAN, y: [2.145, 22.69], major: 10, minor: 2}
    ];

    // ---- styling / layout (window pixels) ----
    const LINE_COLORS = ['#2b8ee0','#ff7f0e','#2ca02c','#e8282a','#9f72d8','#b07060','#f07ac8','#9a9a9a','#d4d42a','#1cc4d8',
                         '#e8c820','#e82ae8','#b47098','#6a30ff','#96d496','#d8208c','#38e0b8','#a894ff','#30b4dc','#ff74cc',
                         '#ff78a8','#48e8dc','#e8a0a0'];
    const PLOT_LEFT = [[90, 592, 1111, 1637, 2109], [78, 597, 1131, 1613, 2128], [84, 592, 1107, 1602, 2105], [72, 592, 1099, 1609, 2105], [78, 585, 1083]];
    const PLOT_RIGHT = [518, 1032, 1546, 2043, 2548];
    const ROW_TOP = 71, ROW_STEP = 261.75, PLOT_H = 203;
    const TITLE_H = 24, XAXIS_H = 30, YAXIS_W = 90;

    Chart.defaults.font.family = 'DejaVu Sans';

    function rgba(hex, a) {
        const n = parseInt(hex.slice(1), 16);
        return 'rgba(' + (n >> 16) + ',' + ((n >> 8) & 255) + ',' + (n & 255) + ',' + a + ')';
    }

    function tickList(min, max, step) {
        const out = [];
        for (let k = Math.ceil(min / step - 1e-9); k * step <= max + 1e-9; k++) {
            out.push({value: +(k * step).toFixed(10)});
        }
        return out;
    }

    function onGrid(v, step) {
        const r = v / step;
        return Math.abs(r - Math.round(r)) < 1e-6;
    }

    function points(times, values) {
        return values.map((v, i) => ({x: times[i], y: v}));
    }

    PANELS.forEach((p, i) => {
        const row = Math.floor(i / 5), col = i % 5;
        const left = PLOT_LEFT[row][col] - YAXIS_W;
        const top = Math.round(ROW_TOP + ROW_STEP * row) - TITLE_H;
        const canvas = document.createElement('canvas');
        canvas.width = PLOT_RIGHT[col] - left;
        canvas.height = TITLE_H + PLOT_H + XAXIS_H;
        canvas.style.left = left + 'px';
        canvas.style.top = top + 'px';
        document.body.appendChild(canvas);

        const color = LINE_COLORS[i];
        const datasets = [{
            data: points(p.t, p.mean), borderColor: color, borderWidth: 1.1,
            pointRadius: 0, fill: false
        }];
        if (p.max) {
            datasets.push({
                data: points(p.t, p.max), borderColor: rgba(color, 0.3), borderWidth: 1,
                pointRadius: 0, fill: '+1', backgroundColor: rgba(color, 0.2)
            });
            datasets.push({
                data: points(p.t, p.min), borderColor: rgba(color, 0.3), borderWidth: 1,
                pointRadius: 0, fill: false
            });
        }

        // the first x label loses its minus sign except in the first column
        const fullFirst = col === 0 && row > 0;
        const fmtY = v => p.fixed != null ? v.toFixed(p.fixed) : String(+v.toFixed(6));

        new Chart(canvas, {
            type: 'line',
            data: {datasets: datasets},
            options: {
                responsive: false,
                animation: false,
                devicePixelRatio: 1,
                events: [],
                layout: {padding: 0},
                plugins: {
                    legend: {display: false},
                    tooltip: {enabled: false},
                    title: {
                        display: true, text: p.name + ' [m-trend]', fullSize: false,
                        color: '#8e8e8e', font: {size: 15, weight: 'normal'},
                        padding: {top: 0, bottom: 6}
                    }
                },
                scales: {
                    x: {
                        type: 'linear', min: X_RANGE[0], max: X_RANGE[1],
                        afterBuildTicks: s => { s.ticks = tickList(X_RANGE[0], X_RANGE[1], X_MINOR); },
                        afterFit: s => { s.height = XAXIS_H; s.paddingLeft = 0; s.paddingRight = 0; },
                        ticks: {
                            autoSkip: false, maxRotation: 0, padding: 3, color: '#a3a3a3', font: {size: 18},
                            callback: v => {
                                if (!onGrid(v, X_MAJOR)) return '';
                                if (v === -14000 && !fullFirst) return '14000';
                                return String(v);
                            }
                        },
                        grid: {drawTicks: false, color: c => onGrid(c.tick.value, X_MAJOR) ? '#2a2a2a' : '#1b1b1b'},
                        border: {color: '#8c8c8c'}
                    },
                    y: {
                        type: 'linear', min: p.y[0], max: p.y[1],
                        afterBuildTicks: s => { s.ticks = tickList(p.y[0], p.y[1], p.minor); },
                        afterFit: s => { s.width = YAXIS_W; s.paddingTop = 0; s.paddingBottom = 0; },
                        ticks: {
                            autoSkip: false, padding: 5, color: '#a3a3a3', font: {size: 18},
                            callback: v => onGrid(v, p.major) ? fmtY(v) : ''
                        },
                        grid: {drawTicks: false, color: c => onGrid(c.tick.value, p.major) ? '#383838' : '#181818'},
                        border: {color: '#7c7c7c'}
                    }
                }
            }
        });
    });
</script>

</body>
</html>
